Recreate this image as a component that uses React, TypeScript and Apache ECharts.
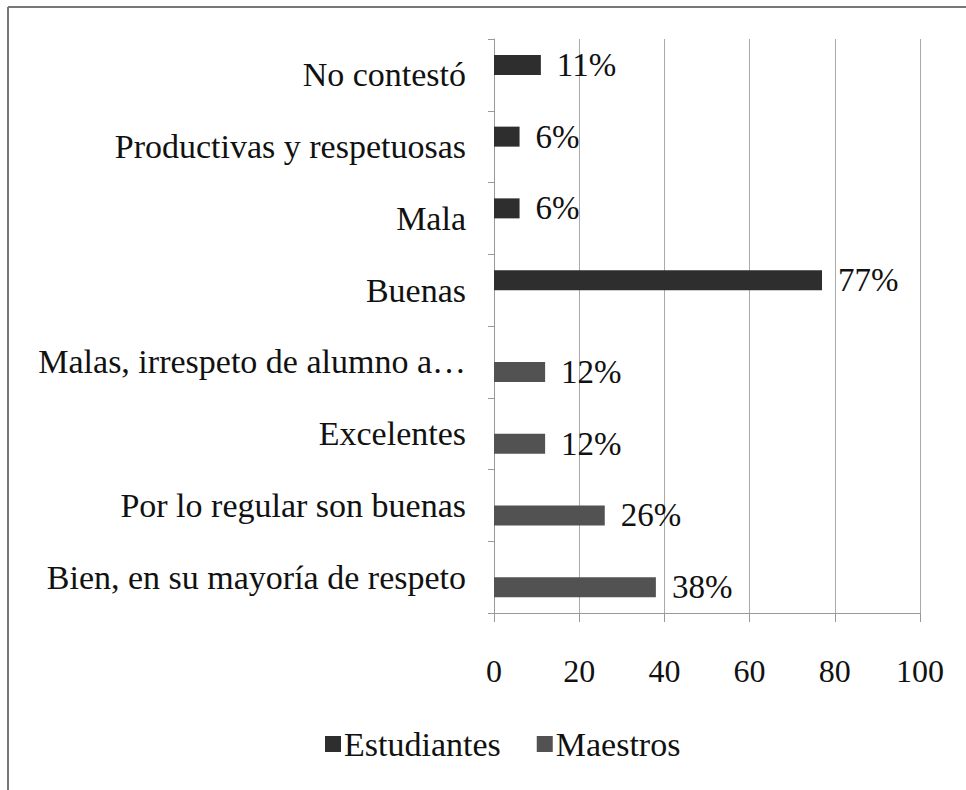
import React, { useEffect, useRef } from "react";
import * as echarts from "echarts";

const categories = [
  "Bien, en su mayoría de respeto",
  "Por lo regular son buenas",
  "Excelentes",
  "Malas, irrespeto de alumno a…",
  "Buenas",
  "Mala",
  "Productivas y respetuosas",
  "No contestó",
];
const estudiantes: (number | string)[] = ["-", "-", "-", "-", 77, 6, 6, 11];
const maestros: (number | string)[] = [38, 26, 12, 12, "-", "-", "-", "-"];
const xTicks = { min: 0, max: 100, interval: 20 };

const FONT = "Liberation Serif";

export default function App() {
  const ref = useRef<HTMLDivElement>(null);
  useEffect(() => {
    if (!ref.current) return;
    const chart = echarts.init(ref.current, null, { renderer: "svg" });
    const labelCfg = {
      show: true,
      position: "right",
      distance: 16,
      formatter: "{c}%",
      fontFamily: FONT,
      fontSize: 33,
      color: "#111",
    };
    chart.setOption({
      animation: false,
      backgroundColor: "#fff",
      textStyle: { fontFamily: FONT },
      grid: { left: 494, right: 46, top: 39, bottom: 177, containLabel: false },
      xAxis: {
        type: "value",
        min: xTicks.min,
        max: xTicks.max,
        interval: xTicks.interval,
        axisLine: { show: true, lineStyle: { color: "#999", width: 1 } },
        axisTick: { show: true, length: 9, lineStyle: { color: "#999" } },
        splitLine: { show: true, lineStyle: { color: "#aaa", width: 1 } },
        axisLabel: { fontFamily: FONT, fontSize: 32, color: "#111", margin: 42 },
      },
      yAxis: {
        type: "category",
        data: categories,
        axisLine: { show: true, lineStyle: { color: "#999", width: 1 } },
        axisTick: { show: true, length: 6, lineStyle: { color: "#999" } },
        axisLabel: { fontFamily: FONT, fontSize: 34, color: "#111", margin: 28 },
      },
      legend: {
        bottom: 24,
        left: 320,
        icon: "rect",
        itemWidth: 16,
        itemHeight: 16,
        itemGap: 36,
        textStyle: { fontFamily: FONT, fontSize: 34, color: "#111", padding: [0, 0, 0, -2] },
        data: ["Estudiantes", "Maestros"],
      },
      series: [
        {
          name: "Estudiantes",
          type: "bar",
          barWidth: 20,
          barGap: "0%",
          data: estudiantes,
          itemStyle: { color: "#2e2e2e" },
          label: labelCfg,
        },
        {
          name: "Maestros",
          type: "bar",
          barWidth: 20,
          barGap: "0%",
          data: maestros,
          itemStyle: { color: "#525252" },
          label: labelCfg,
        },
      ],
      graphic: [
        { type: "line", shape: { x1: 8, y1: 7, x2: 966, y2: 7 }, style: { stroke: "#777", lineWidth: 2 } },
        { type: "line", shape: { x1: 8, y1: 7, x2: 8, y2: 790 }, style: { stroke: "#777", lineWidth: 2 } },
      ],
    });
    return () => chart.dispose();
  }, []);
  return <div ref={ref} style={{ width: 966, height: 790, position: "absolute", left: 0, top: 0 }} />;
}
